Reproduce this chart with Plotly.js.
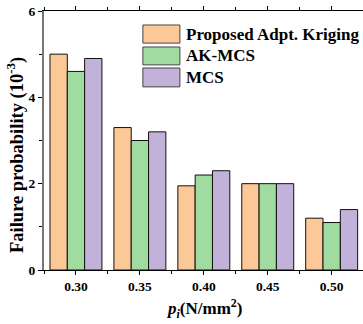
<!DOCTYPE html>
<html><head><meta charset="utf-8">
<script src="https://cdn.plot.ly/plotly-3.0.1.min.js"></script>
<style>html,body{margin:0;padding:0;background:#fff}#chart{width:363px;height:324px}</style>
</head><body><div id="chart"></div>
<script>
const pressures = [0.30, 0.35, 0.40, 0.45, 0.50];
const tickLabels = ['0.30', '0.35', '0.40', '0.45', '0.50'];
const seriesNames = ['Proposed Adpt. Kriging', 'AK-MCS', 'MCS'];
const proposed = [5.0, 3.3, 1.95, 2.0, 1.2];
const akmcs = [4.6, 3.0, 2.2, 2.0, 1.1];
const mcs = [4.9, 3.2, 2.3, 2.0, 1.4];
const colors = ['#FDC897', '#A0DBA0', '#C2B2D9'];
const xTitle = '<b><i>p<sub>i</sub></i>(N/mm<sup>2</sup>)</b>';
const yTitle = '<b>Failure probability (10<sup>-3</sup>)</b>';

const F = 'Liberation Serif';
const allSeries = [proposed, akmcs, mcs];
const traces = allSeries.map((vals, i) => ({
  type: 'bar', x: pressures, y: vals, name: seriesNames[i],
  marker: {color: colors[i], line: {color: '#111', width: 1}},
  showlegend: false, hoverinfo: 'skip'
}));

// custom legend (large swatches like the original)
const legRows = [[0.946, 0.876], [0.861, 0.792], [0.780, 0.707]];
const shapes = legRows.map((r, i) => ({
  type: 'rect', xref: 'paper', yref: 'paper', x0: 0.310, x1: 0.426, y0: r[1], y1: r[0],
  fillcolor: colors[i], line: {color: '#444', width: 1}
}));
const annotations = legRows.map((r, i) => ({
  xref: 'paper', yref: 'paper', x: 0.439, y: (r[0] + r[1]) / 2, xanchor: 'left', yanchor: 'middle',
  text: '<b>' + seriesNames[i] + '</b>', showarrow: false, font: {family: F, size: 17, color: '#000'}
}));
annotations.push({
  xref: 'paper', yref: 'paper', x: 0.5016, y: -0.147, xanchor: 'center', yanchor: 'middle',
  text: xTitle, showarrow: false, font: {family: F, size: 17, color: '#000'}
});
annotations.push({
  xref: 'paper', yref: 'paper', x: -0.091, y: 0.444, xanchor: 'center', yanchor: 'middle',
  textangle: -90, text: yTitle, showarrow: false, font: {family: F, size: 18.5, color: '#000'}
});

const layout = {
  width: 363, height: 324,
  margin: {l: 44, r: 0, t: 11, b: 54},
  paper_bgcolor: '#fff', plot_bgcolor: '#fff',
  barmode: 'group', bargap: 0.1875, bargroupgap: 0,
  font: {family: F, color: '#000'},
  xaxis: {
    range: [0.275, 0.5245], tickvals: pressures, ticktext: tickLabels,
    ticks: 'outside', ticklen: 4, tickwidth: 1, tickcolor: '#000',
    minor: {dtick: 0.05, tick0: 0.275, ticks: 'outside', ticklen: 3, tickcolor: '#000'},
    showline: true, linecolor: '#000', linewidth: 1, mirror: 'allticks',
    showgrid: false, zeroline: false,
    tickfont: {family: F, size: 13.5, color: '#000', weight: 'bold'}
  },
  yaxis: {
    range: [0, 6], dtick: 2, tick0: 0,
    ticks: 'outside', ticklen: 4, tickwidth: 1, tickcolor: '#000',
    minor: {dtick: 1, ticks: 'outside', ticklen: 3, tickcolor: '#000'},
    showline: true, linecolor: '#777', linewidth: 2,
    showgrid: false, zeroline: false,
    tickfont: {family: F, size: 13.5, color: '#000', weight: 'bold'}
  },
  yaxis2: {
    overlaying: 'y', side: 'right', range: [0, 6], dtick: 2, tick0: 0,
    ticks: 'inside', ticklen: 5, tickcolor: '#000', showticklabels: false,
    minor: {dtick: 1, ticks: 'inside', ticklen: 3, tickcolor: '#000'},
    showline: false, showgrid: false, zeroline: false
  },
  shapes: shapes, annotations: annotations
};
Plotly.newPlot('chart', traces, layout, {displayModeBar: false, staticPlot: true});
</script></body></html>
